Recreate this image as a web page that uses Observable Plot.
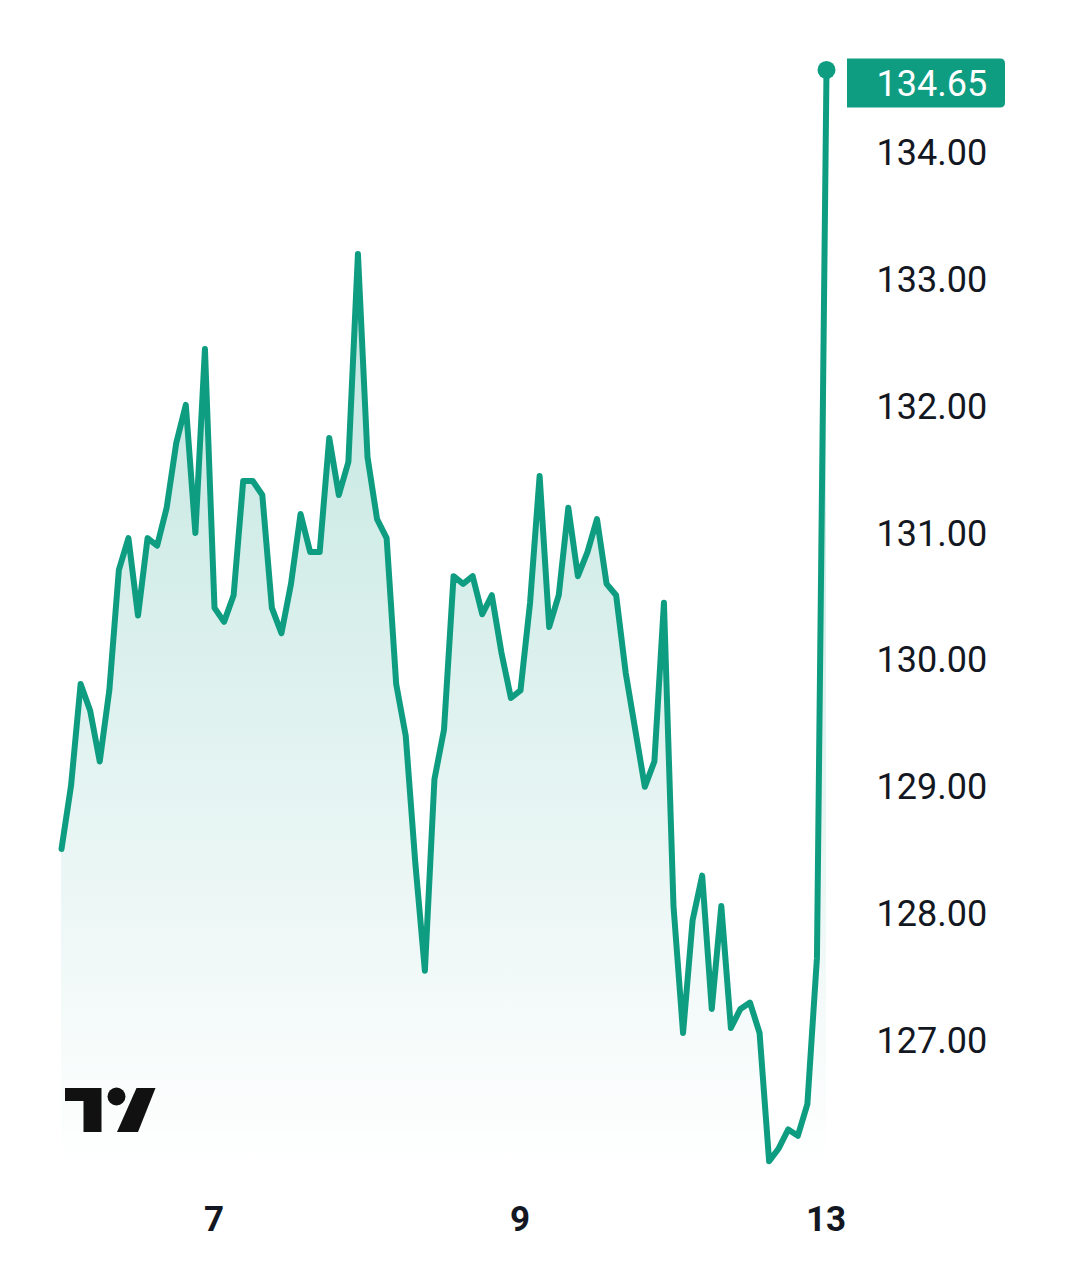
<!DOCTYPE html>
<html>
<head>
<meta charset="utf-8">
<style>
html,body{margin:0;padding:0;background:#fff;}
svg{display:block;}
</style>
<script src="https://cdn.jsdelivr.net/npm/d3@7"></script>
<script src="https://cdn.jsdelivr.net/npm/@observablehq/plot@0.6"></script>
</head>
<body>
<div id="chart"></div>
<script>
const prices = [
  128.51,129.01,129.81,129.60,129.20,129.76,130.71,130.96,130.35,130.96,
  130.90,131.20,131.71,132.01,131.00,132.45,130.41,130.30,130.51,131.41,
  131.41,131.30,130.41,130.21,130.60,131.15,130.85,130.85,131.75,131.30,
  131.56,133.20,131.60,131.11,130.96,129.81,129.40,128.40,127.55,129.06,
  129.45,130.66,130.60,130.66,130.36,130.51,130.06,129.70,129.76,130.45,
  131.45,130.26,130.51,131.20,130.66,130.85,131.11,130.60,130.51,129.90,
  129.45,129.00,129.20,130.45,128.06,127.06,127.95,128.30,127.25,128.06,
  127.10,127.25,127.30,127.06,126.05,126.15,126.30,126.25,126.50,127.65,
  134.65
];
const xTickPositions = [16, 48, 80];
const xTickLabels = ["7", "9", "13"];
const yTicks = [127, 128, 129, 130, 131, 132, 133, 134];

const green = "#0f9d82";
const ink = "#131722";
const fontFamily = "Roboto";
const series = prices.map((price, i) => ({i, price}));
const last = series[series.length - 1];

const defs = () => {
  const d = d3.create("svg:defs");
  const g = d.append("linearGradient").attr("id", "fade").attr("x1", 0).attr("y1", 0).attr("x2", 0).attr("y2", 1);
  g.append("stop").attr("offset", "0%").attr("stop-color", "#089981").attr("stop-opacity", 0.31);
  g.append("stop").attr("offset", "100%").attr("stop-color", "#089981").attr("stop-opacity", 0);
  return d.node();
};

// Price tag next to the last point, placed relative to the scales
const priceTag = (index, {x, y}) => {
  const left = x(last.i) + 21, right = left + 158;
  const top = y(last.price) - 11, bottom = top + 49, r = 5;
  const path = `M${left},${top}H${right - r}Q${right},${top} ${right},${top + r}V${bottom - r}Q${right},${bottom} ${right - r},${bottom}H${left}Z`;
  return d3.create("svg:path").attr("d", path).attr("fill", green).node();
};

// TradingView mark, bottom-left of the plot
const logo = () => {
  const g = d3.create("svg:g").attr("transform", "translate(65,1088)").attr("fill", "#111");
  g.append("path").attr("d", "M0,0H36.5V44H18.5V13H0Z");
  g.append("circle").attr("cx", 51.5).attr("cy", 8.5).attr("r", 9);
  g.append("path").attr("d", "M71.5,0H90.5L73,44H52Z");
  return g.node();
};

const plot = Plot.plot({
  width: 1080,
  height: 1278,
  marginLeft: 61,
  marginRight: 254,
  marginTop: 25,
  marginBottom: 111,
  style: {background: "#fff", fontFamily},
  x: {domain: [0, 80]},
  y: {domain: [126, 135]},
  marks: [
    defs,
    Plot.areaY(series, {x: "i", y1: 126, y2: "price", fill: "url(#fade)"}),
    Plot.axisY({
      anchor: "right", ticks: yTicks, tickSize: 0, tickPadding: 50, label: null, dy: 1,
      tickFormat: d => d.toFixed(2), fontSize: 36, fill: ink
    }),
    Plot.axisX({
      ticks: xTickPositions, tickSize: 0, tickPadding: 39, label: null, dx: -0.5,
      tickFormat: d => xTickLabels[xTickPositions.indexOf(d)],
      fontSize: 35, fontWeight: 700, fill: ink
    }),
    Plot.lineY(series, {x: "i", y: "price", stroke: green, strokeWidth: 6, strokeLinejoin: "round", strokeLinecap: "round"}),
    Plot.dot([last], {x: "i", y: "price", r: 9, fill: green}),
    priceTag,
    Plot.text([last], {
      x: "i", y: "price", text: d => d.price.toFixed(2), dx: 50, dy: 15,
      textAnchor: "start", fontSize: 36, fill: "#fff"
    }),
    logo
  ]
});
document.getElementById("chart").append(plot);
</script>
</body>
</html>
